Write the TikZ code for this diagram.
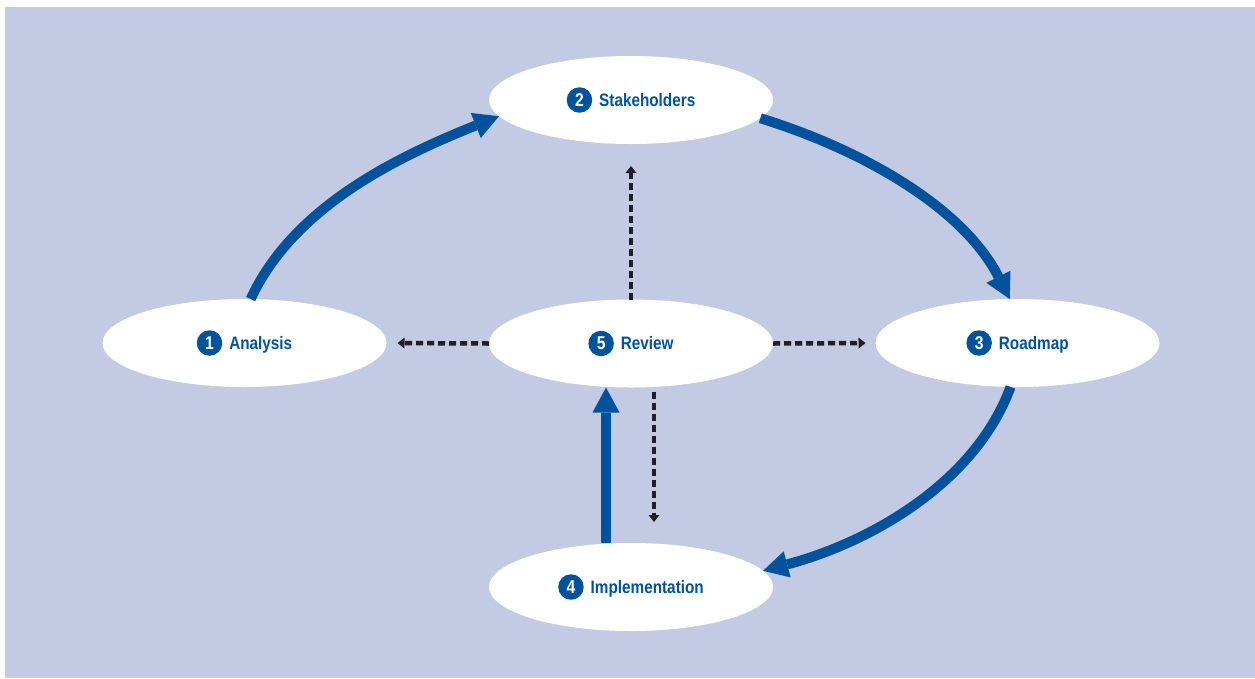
\documentclass[tikz,border=0pt]{standalone}
\usepackage{fontspec}
\setmainfont{Liberation Sans}[FakeStretch=0.85]
\usetikzlibrary{arrows.meta,shapes.geometric}
\definecolor{cycleblue}{HTML}{00529C}
\definecolor{panel}{HTML}{C3CAE4}
\definecolor{ink}{HTML}{231F20}
% numbered disc in front of each stage name
\newcommand\stepno[1]{\tikz[baseline=(d.base)]\node[circle,fill=cycleblue,text=white,inner sep=0pt,minimum size=25.5pt,font=\bfseries\fontsize{18.5}{18.5}\selectfont](d){#1};}
\begin{document}
\begin{tikzpicture}[x=1pt,y=-1pt,
  stage/.style={ellipse,fill=white,minimum width=284pt,minimum height=88pt,inner sep=0pt,outer sep=0pt,text=cycleblue,font=\bfseries\fontsize{18}{20}\selectfont},
  flow/.style={color=cycleblue,line width=10pt,-{Triangle[length=25pt,width=27pt,line width=0pt]}},
  link/.style={color=ink,line width=4.5pt,dash pattern=on 7pt off 4pt,-{Triangle[length=7pt,width=11pt,line width=0pt]}}]
  \useasboundingbox (0,0) rectangle (1255,678);
  \fill[panel] (5,7) rectangle (1255,678);

  % stages
  \node[stage] (stk)  at (631,100)    {\stepno{2}\hspace{7pt}Stakeholders};
  \node[stage] (ana)  at (244.5,343)  {\stepno{1}\hspace{7pt}Analysis};
  \node[stage] (rev)  at (631,343.5)  {\stepno{5}\hspace{7pt}Review};
  \node[stage] (road) at (1017.5,343) {\stepno{3}\hspace{7pt}Roadmap};
  \node[stage] (imp)  at (631,587)    {\stepno{4}\hspace{7pt}Implementation};

  % main cycle
  \draw[flow] (ana.82) .. controls (293,207) and (397,157) .. (stk.187);
  \draw[flow] (stk.-8) .. controls (866,151) and (964,209) .. (road.100);
  \draw[flow] (road.261) .. controls (975,484) and (868,543) .. (imp.7);
  \draw[flow] ([xshift=-25pt]imp.north) -- ([xshift=-25pt]rev.south);

  % feedback from review
  \draw[link, shorten >=22pt] (rev.north) -- (stk.south);
  \draw[link, shorten >=11pt] (rev.west) -- (ana.east);
  \draw[link, shorten >=10pt] (rev.east) -- (road.west);
  \draw[link, shorten <=4pt, shorten >=21pt] ([xshift=23pt]rev.south) -- ([xshift=23pt]imp.north);
\end{tikzpicture}
\end{document}
